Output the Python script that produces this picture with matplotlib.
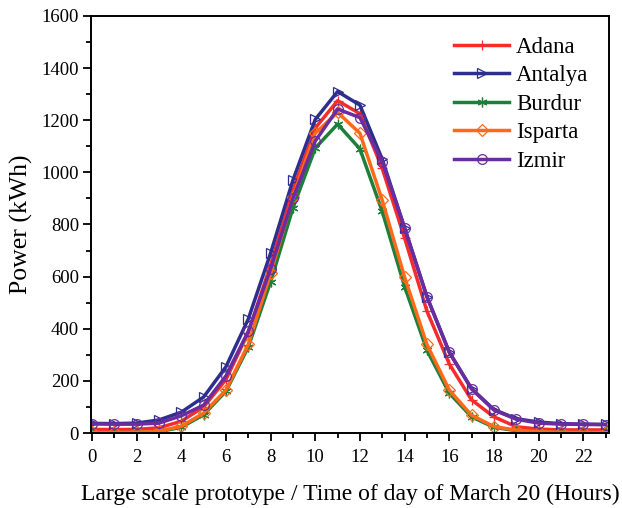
import matplotlib
matplotlib.use("Agg")
import matplotlib.pyplot as plt
from matplotlib.ticker import MultipleLocator

plt.rcParams['font.family'] = ['Liberation Serif', 'DejaVu Serif']

hours = list(range(24))
adana = [14, 13, 14, 20, 45, 100, 205, 385, 645, 930, 1170, 1275, 1225, 1015, 748, 468, 265, 127, 62, 24, 15, 12, 12, 12]
antalya = [37, 36, 38, 50, 80, 138, 254, 437, 690, 970, 1203, 1310, 1258, 1050, 787, 523, 310, 170, 90, 55, 42, 36, 34, 33]
burdur = [1, 1, 2, 5, 22, 70, 160, 330, 580, 863, 1093, 1185, 1090, 850, 562, 318, 153, 62, 22, 9, 4, 2, 1, 1]
isparta = [2, 2, 3, 7, 26, 76, 165, 340, 612, 905, 1150, 1230, 1150, 893, 598, 340, 165, 68, 25, 11, 5, 3, 2, 2]
izmir = [35, 34, 34, 38, 66, 107, 219, 390, 630, 900, 1120, 1243, 1210, 1040, 787, 523, 310, 169, 88, 53, 38, 34, 33, 32]

series = [
    ("Adana", adana, "#f52c2c", "+"),
    ("Antalya", antalya, "#2e2e8f", ">"),
    ("Burdur", burdur, "#1c7f3a", (6, 2, 0)),
    ("Isparta", isparta, "#ff6a1a", "D"),
    ("Izmir", izmir, "#6a2c9e", "o"),
]

fig = plt.figure(figsize=(6.22, 5.08), dpi=100)
ax = fig.add_axes([0.146, 0.1476, 0.833, 0.821])

for name, vals, col, mk in series:
    msize = 6 if mk in ("D",) else 7
    ax.plot(hours, vals, color=col, lw=2.5, marker=mk, markersize=msize,
            markerfacecolor="none", markeredgecolor=col, markeredgewidth=0.9,
            label=name)

ax.set_xlim(-0.05, 23.15)
ax.set_ylim(0, 1600)
ax.xaxis.set_major_locator(MultipleLocator(2))
ax.xaxis.set_minor_locator(MultipleLocator(1))
ax.yaxis.set_major_locator(MultipleLocator(200))
ax.yaxis.set_minor_locator(MultipleLocator(100))
ax.tick_params(which="both", direction="out", top=False, right=False, width=1.3)
ax.tick_params(which="major", length=6, labelsize=13.5, pad=2.5)
ax.tick_params(axis="x", which="major", pad=5.5)
ax.tick_params(which="minor", length=3.5)
for s in ax.spines.values():
    s.set_linewidth(1.4)

ax.set_xlabel("Large scale prototype / Time of day of March 20 (Hours)", fontsize=17, labelpad=13)
ax.set_ylabel("Power (kWh)", fontsize=18.5, labelpad=6)

leg = ax.legend(loc="upper right", frameon=False, fontsize=16.5, handlelength=2.4,
                labelspacing=0.33, handletextpad=0.3, borderaxespad=0.5)

fig.savefig("out.png", dpi=100)
